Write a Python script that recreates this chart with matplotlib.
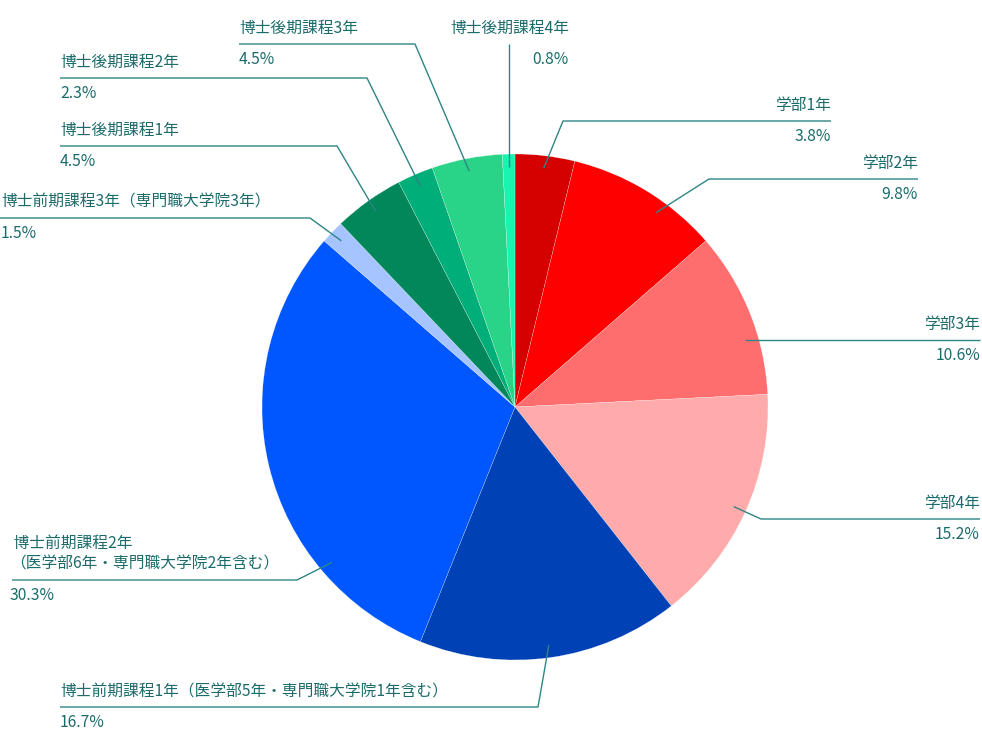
import numpy as np
import matplotlib
matplotlib.use('Agg')
import matplotlib.pyplot as plt

plt.rcParams['font.family'] = ['Noto Sans CJK JP', 'DejaVu Sans']

# data
labels = ['学部1年', '学部2年', '学部3年', '学部4年',
          '博士前期課程1年（医学部5年・専門職大学院1年含む）',
          ' 博士前期課程2年\n（医学部6年・専門職大学院2年含む）',
          '博士前期課程3年（専門職大学院3年）',
          '博士後期課程1年', '博士後期課程2年', '博士後期課程3年', '博士後期課程4年']
values = [3.8, 9.8, 10.6, 15.2, 16.7, 30.3, 1.5, 4.5, 2.3, 4.5, 0.8]
colors = ['#d50000', '#ff0000', '#ff6e6e', '#ffabab',
          '#0041b5', '#0057ff', '#a6c4ff',
          '#02875b', '#00ae79', '#29d489', '#17f5b0']

# label layout in image pixels: (elbow_x, line_y, line_end_x, text_x, align, tick_frac)
layout = [
    (563, 121, 831, 831, 'right', None),
    (709, 179, 918, 918, 'right', 0.10),
    (None, 340, 980, 980, 'right', 0.204),
    (761, 519, 980, 980, 'right', None),
    (538, 707, 60, 60, 'left', None),
    (297, 580, 12, 10, 'left', 0.638),
    (310, 218, 0, 1, 'left', None),
    (337, 146, 60, 60, 'left', None),
    (367, 78, 60, 60, 'left', None),
    (415, 44, 239, 239, 'left', None),
    (None, 44, None, 569, 'right', None),
]

W, H = 982, 733
cx, cy, R = 515, 407, 253
txt_color = '#1c6b6b'
line_color = '#2f8585'


def Y(y):
    return H - y


fig = plt.figure(figsize=(W / 100, H / 100), dpi=100)
ax = fig.add_axes([0, 0, 1, 1])
ax.pie(values, colors=colors, startangle=90, counterclock=False,
       center=(cx, Y(cy)), radius=R,
       wedgeprops=dict(edgecolor='white', linewidth=0.15))
ax.set_xlim(0, W)
ax.set_ylim(0, H)
ax.set_aspect('equal')
ax.axis('off')

total = sum(values)
cum = np.cumsum([0] + values[:-1])
for i, (lab, v) in enumerate(zip(labels, values)):
    ex, ly, lend, tx, align, frac = layout[i]
    if frac is None:
        frac = (cum[i] + v / 2) / total
    ang = np.deg2rad(frac * 360)
    px = cx + 0.95 * R * np.sin(ang)
    py = cy - 0.95 * R * np.cos(ang)
    if ex is None:
        if lend is None:
            # vertical tick straight up
            xs, ys = [px, px], [py, ly]
        else:
            xs, ys = [px, lend], [ly, ly]
    else:
        xs, ys = [px, ex, lend], [py, ly, ly]
    ax.plot(xs, [Y(y) for y in ys], color=line_color, lw=1.0,
            solid_capstyle='butt')
    ax.text(tx, Y(ly - 7), lab, ha=align, va='bottom', fontsize=11.3,
            color=txt_color, linespacing=1.3)
    ax.text(tx, Y(ly + 7), f'{v:.1f}%', ha=align, va='top', fontsize=11.3,
            color=txt_color)

fig.savefig('out.png', dpi=100)
